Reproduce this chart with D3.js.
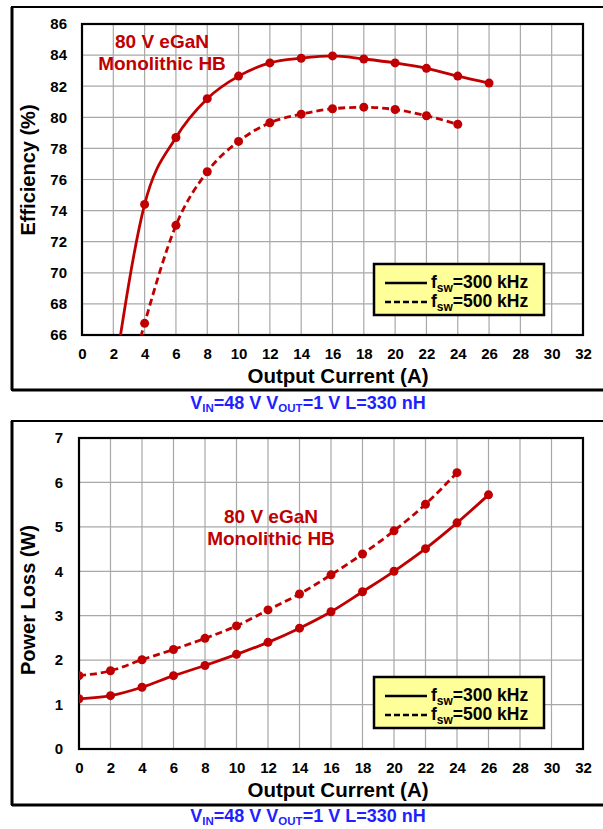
<!DOCTYPE html>
<html>
<head>
<meta charset="utf-8">
<script src="https://cdn.jsdelivr.net/npm/d3@7"></script>
<style>
  body { margin: 0; background: #fff; }
  svg { display: block; font-family: "Liberation Sans", Arial, sans-serif; font-weight: bold; }
</style>
</head>
<body>
<div id="chart"></div>
<script>
// ---- data ----
const currentTicks = [0, 2, 4, 6, 8, 10, 12, 14, 16, 18, 20, 22, 24, 26, 28, 30, 32]

// efficiency (%)
const effCurrent300 = [2, 4, 6, 8, 10, 12, 14, 16, 18, 20, 22, 24, 26]
const eff300 = [63.0, 74.4, 78.7, 81.2, 82.65, 83.5, 83.8, 83.95, 83.75, 83.5, 83.15, 82.65, 82.2]
const effCurrent500 = [2, 4, 6, 8, 10, 12, 14, 16, 18, 20, 22, 24]
const eff500 = [59.0, 66.75, 73.05, 76.5, 78.45, 79.65, 80.2, 80.55, 80.65, 80.5, 80.1, 79.55]
const effTicks = [66, 68, 70, 72, 74, 76, 78, 80, 82, 84, 86]

// power loss (W)
const lossCurrent300 = [0, 2, 4, 6, 8, 10, 12, 14, 16, 18, 20, 22, 24, 26]
const loss300 = [1.13, 1.2, 1.39, 1.65, 1.88, 2.13, 2.4, 2.72, 3.09, 3.54, 4.0, 4.51, 5.09, 5.72]
const lossCurrent500 = [0, 2, 4, 6, 8, 10, 12, 14, 16, 18, 20, 22, 24]
const loss500 = [1.65, 1.76, 2.01, 2.24, 2.49, 2.77, 3.13, 3.49, 3.92, 4.39, 4.91, 5.51, 6.22]
const lossTicks = [0, 1, 2, 3, 4, 5, 6, 7]

const RED = '#c00000'
const BLUE = '#1f1fff'

const svg = d3.select('#chart').append('svg')
  .attr('width', 603)
  .attr('height', 829)

const drawPanel = (opt) => {
  const g = svg.append('g')

  // outer frame
  g.append('rect')
    .attr('x', 12).attr('y', opt.frameTop)
    .attr('width', 620).attr('height', opt.frameBottom - opt.frameTop)
    .attr('fill', 'none').attr('stroke', '#000').attr('stroke-width', 2)
  g.append('line')
    .attr('x1', 12).attr('x2', 12).attr('y1', opt.frameTop).attr('y2', opt.frameBottom)
    .attr('stroke', '#000').attr('stroke-width', 3)
  g.append('line')
    .attr('x1', 12).attr('x2', 620).attr('y1', opt.frameBottom).attr('y2', opt.frameBottom)
    .attr('stroke', '#000').attr('stroke-width', 3)

  const x = d3.scaleLinear().domain([0, 32]).range([opt.left, 583])
  const y = d3.scaleLinear().domain(opt.yDomain).range([opt.bottom, opt.top])

  // grid
  g.append('g').selectAll('line').data(currentTicks.slice(1, -1)).join('line')
    .attr('x1', d => x(d)).attr('x2', d => x(d))
    .attr('y1', opt.top).attr('y2', opt.bottom)
    .attr('stroke', '#a8a8a8').attr('stroke-width', 1.2)
  g.append('g').selectAll('line').data(opt.yTicks.slice(1, -1)).join('line')
    .attr('x1', opt.left).attr('x2', 583)
    .attr('y1', d => y(d)).attr('y2', d => y(d))
    .attr('stroke', '#a8a8a8').attr('stroke-width', 1.2)

  // axes labels
  const xAxis = d3.axisBottom(x).tickValues(currentTicks).tickSize(0).tickPadding(13)
  const xa = g.append('g').attr('transform', `translate(0,${opt.bottom})`).call(xAxis)
  xa.select('.domain').remove()
  xa.selectAll('text').attr('font-size', 15).attr('font-family', 'Liberation Sans, Arial').attr('font-weight', 'bold').attr('fill', '#000')

  const yAxis = d3.axisLeft(y).tickValues(opt.yTicks).tickFormat(d3.format('d')).tickSize(0).tickPadding(opt.yPad)
  const ya = g.append('g').attr('transform', `translate(${opt.left},0)`).call(yAxis)
  ya.select('.domain').remove()
  ya.selectAll('text').attr('font-size', 15).attr('font-family', 'Liberation Sans, Arial').attr('font-weight', 'bold').attr('fill', '#000')

  // plot border
  g.append('rect')
    .attr('x', opt.left).attr('y', opt.top)
    .attr('width', 583 - opt.left).attr('height', opt.bottom - opt.top)
    .attr('fill', 'none').attr('stroke', '#000').attr('stroke-width', 2.2)

  // axis titles
  g.append('text')
    .attr('x', 338).attr('y', opt.bottom + 48)
    .attr('text-anchor', 'middle').attr('font-size', 20.5)
    .text('Output Current (A)')
  g.append('text')
    .attr('transform', `translate(35,${opt.yTitleY}) rotate(-90)`)
    .attr('text-anchor', 'middle').attr('font-size', 20)
    .text(opt.yTitle)

  // annotation
  const ann = g.append('text').attr('fill', RED).attr('font-size', 19).attr('text-anchor', 'middle')
  ann.append('tspan').attr('x', opt.annX).attr('y', opt.annY).text('80 V eGaN')
  ann.append('tspan').attr('x', opt.annX).attr('y', opt.annY + 22).text('Monolithic HB')

  // series
  const clipId = 'clip' + opt.id
  svg.append('clipPath').attr('id', clipId).append('rect')
    .attr('x', opt.left).attr('y', opt.top - 10)
    .attr('width', 583 - opt.left).attr('height', opt.bottom - opt.top + 10)

  const line = d3.line().x(d => x(d[0])).y(d => y(d[1])).curve(d3.curveMonotoneX)
  const series = [
    { xs: opt.x300, ys: opt.y300, dash: null },
    { xs: opt.x500, ys: opt.y500, dash: '7,4' }
  ]
  const sg = g.append('g').attr('clip-path', `url(#${clipId})`)
  series.forEach(s => {
    const pts = s.xs.map((v, i) => [v, s.ys[i]])
    sg.append('path').datum(pts)
      .attr('d', line)
      .attr('fill', 'none').attr('stroke', RED).attr('stroke-width', 2.8)
      .attr('stroke-dasharray', s.dash)
    sg.selectAll(null).data(pts.filter(p => p[1] >= opt.yDomain[0])).join('circle')
      .attr('cx', d => x(d[0])).attr('cy', d => y(d[1])).attr('r', 4.5)
      .attr('fill', RED)
  })

  // legend
  const lg = g.append('g').attr('transform', `translate(374,${opt.legendTop})`)
  lg.append('rect').attr('width', 170).attr('height', 51)
    .attr('fill', '#ffff99').attr('stroke', '#000').attr('stroke-width', 2.5)
  const rows = [{ dash: null, label: '=300 kHz' }, { dash: '6,3', label: '=500 kHz' }]
  rows.forEach((r, i) => {
    const cy = 19 + i * 19
    lg.append('line').attr('x1', 11).attr('x2', 53).attr('y1', cy).attr('y2', cy)
      .attr('stroke', '#000').attr('stroke-width', 2.5).attr('stroke-dasharray', r.dash)
    const t = lg.append('text').attr('x', 57).attr('y', cy + 5).attr('font-size', 17.5)
    t.append('tspan').text('f')
    t.append('tspan').attr('font-size', 12).attr('dy', 4).text('sw')
    t.append('tspan').attr('dy', -4).text(r.label)
  })

  // caption
  const cap = svg.append('text')
    .attr('x', 308).attr('y', opt.frameBottom + opt.capOffset)
    .attr('text-anchor', 'middle').attr('font-size', 18).attr('fill', BLUE)
  cap.append('tspan').text('V')
  cap.append('tspan').attr('font-size', 11.5).attr('dy', 3).text('IN')
  cap.append('tspan').attr('dy', -3).text('=48 V V')
  cap.append('tspan').attr('font-size', 11.5).attr('dy', 3).text('OUT')
  cap.append('tspan').attr('dy', -3).text('=1 V L=330 nH')
}

drawPanel({
  id: 'eff', frameTop: 7, frameBottom: 390, capOffset: 19,
  left: 82, top: 24, bottom: 335, yPad: 15,
  yDomain: [66, 86], yTicks: effTicks,
  yTitle: 'Efficiency (%)', yTitleY: 170,
  annX: 162, annY: 48,
  x300: effCurrent300, y300: eff300, x500: effCurrent500, y500: eff500,
  legendTop: 264
})

drawPanel({
  id: 'loss', frameTop: 421, frameBottom: 805, capOffset: 17,
  left: 79, top: 438, bottom: 749, yPad: 16,
  yDomain: [0, 7], yTicks: lossTicks,
  yTitle: 'Power Loss (W)', yTitleY: 600,
  annX: 271, annY: 523,
  x300: lossCurrent300, y300: loss300, x500: lossCurrent500, y500: loss500,
  legendTop: 677
})
</script>
</body>
</html>
